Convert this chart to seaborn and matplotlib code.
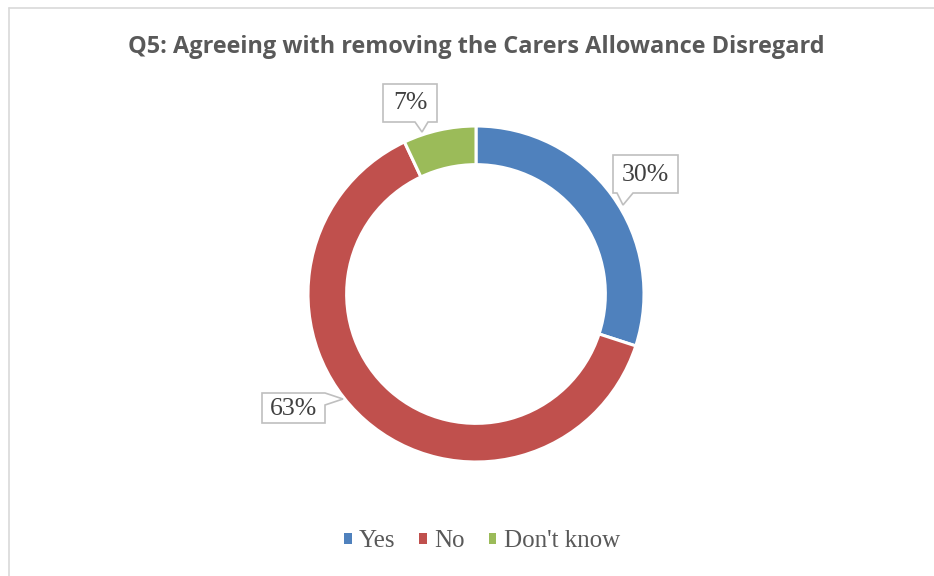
import matplotlib
matplotlib.use("Agg")
import matplotlib.pyplot as plt
from matplotlib.patches import Polygon, Rectangle
from matplotlib.lines import Line2D
import seaborn as sns

# Survey responses
categories = ["Yes", "No", "Don't know"]
shares = [30, 63, 7]
colors = ["#4F81BD", "#C0504D", "#9BBB59"]

sns.set_theme(style="white")
plt.rcParams["font.family"] = ["Liberation Serif", "DejaVu Serif"]

W, H = 934, 576
fig = plt.figure(figsize=(W / 100, H / 100), dpi=100)
fig.patch.set_facecolor("white")

# chart frame (top and left edges visible)
fig.add_artist(Line2D([9 / W, 9 / W], [0, 1 - 8 / H], transform=fig.transFigure,
                      color="#d9d9d9", lw=1.2))
fig.add_artist(Line2D([9 / W, 1], [1 - 8 / H, 1 - 8 / H], transform=fig.transFigure,
                      color="#d9d9d9", lw=1.2))

# donut
cx, cy, R = 476, 294, 168
ax = fig.add_axes([(cx - R) / W, (H - cy - R) / H, 2 * R / W, 2 * R / H])
wedges, _ = ax.pie(shares, colors=colors, startangle=90, counterclock=False,
                   radius=1.0, wedgeprops=dict(width=0.23, edgecolor="white", linewidth=2.2))
ax.set_xlim(-1, 1)
ax.set_ylim(-1, 1)
ax.set_aspect("equal")
ax.axis("off")

fig.text(476 / W, 1 - 47 / H, "Q5: Agreeing with removing the Carers Allowance Disregard",
         ha="center", va="center", fontsize=16.9, fontweight="bold",
         color="#595959", family=["Open Sans", "DejaVu Sans"])


def px(x, y):
    return (x / W, 1 - y / H)


def callout(points, text, tx, ty):
    poly = Polygon([px(x, y) for x, y in points], closed=True, transform=fig.transFigure,
                   facecolor="white", edgecolor="#bfbfbf", lw=1.2, zorder=5)
    fig.add_artist(poly)
    fig.text(tx / W, 1 - ty / H, text, ha="center", va="center", fontsize=18.5,
             color="#404040", zorder=6)


labels = [f"{v}%" for v in shares]

# Yes label (pointer down-left)
callout([(613, 155), (678, 155), (678, 193), (633, 193), (623, 205), (617, 193), (613, 193)],
        labels[0], 645.5, 175)
# No label (pointer to the right)
callout([(262, 393), (325, 393), (343, 399), (325, 405), (325, 423), (262, 423)],
        labels[1], 293.5, 409)
# Don't know label (pointer down)
callout([(383, 84), (437, 84), (437, 122), (428, 122), (422, 132), (415, 122), (383, 122)],
        labels[2], 410, 103)

# legend
handles = [Rectangle((0, 0), 1, 1, facecolor=c, edgecolor="none") for c in colors]
leg = fig.legend(handles, categories, loc="center", bbox_to_anchor=(482 / W, 1 - 541 / H),
                 ncol=3, frameon=False, fontsize=18, handlelength=0.3, handleheight=0.3,
                 handletextpad=0.3, columnspacing=0.95, labelcolor="#595959")

fig.savefig("out.png", dpi=100, facecolor="white")
